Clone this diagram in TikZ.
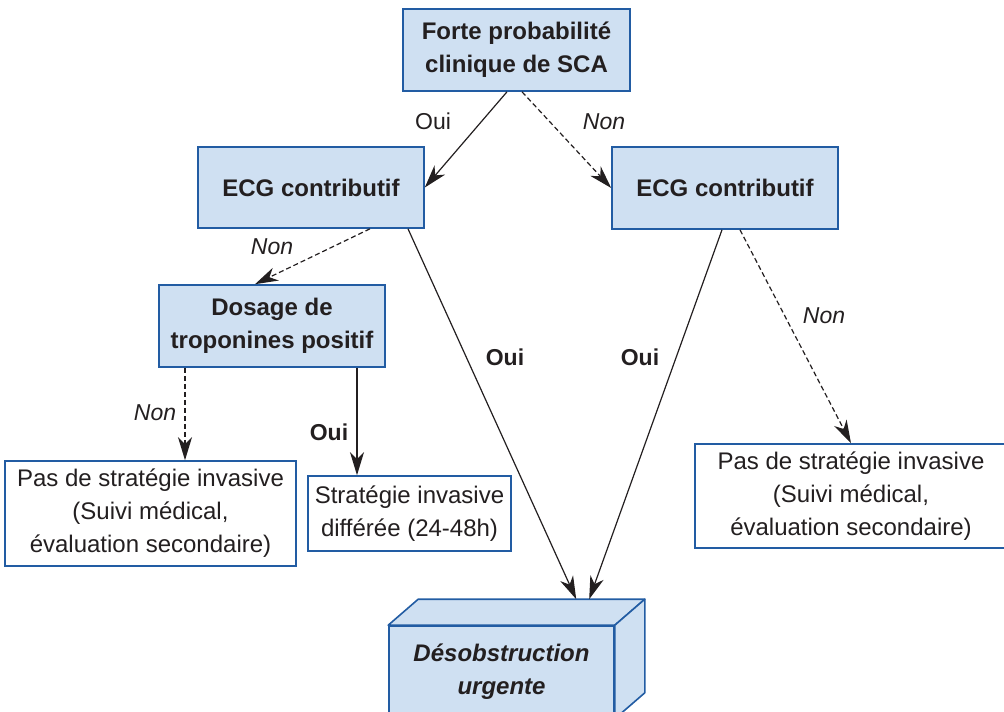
\documentclass[tikz,border=0pt]{standalone}
\usepackage{fontspec}
\setmainfont{Liberation Sans}
\usetikzlibrary{arrows.meta,calc}
\definecolor{boxfill}{RGB}{207,224,242}
\definecolor{boxline}{RGB}{34,92,163}
\definecolor{inkgray}{RGB}{35,31,32}
\begin{document}
\begin{tikzpicture}[
    x=1pt, y=-1pt,
    every node/.style={font=\fontsize{24}{33}\selectfont, text=inkgray, align=center, inner sep=0pt},
    bluebox/.style={draw=boxline, line width=1.6pt, fill=boxfill, font=\fontsize{24}{33}\selectfont\bfseries},
    whitebox/.style={draw=boxline, line width=1.6pt, fill=white},
    cubeface/.style={draw=boxline, line width=1.6pt, fill=boxfill, line join=round},
    ouiarrow/.style={draw=inkgray, line width=1.2pt, -{Stealth[length=23pt,width=14pt,inset=7pt]}},
    nonarrow/.style={ouiarrow, dash pattern=on 5pt off 3pt},
    lbl/.style={font=\fontsize{23}{27}\selectfont},
    nonlbl/.style={font=\fontsize{23}{27}\selectfont\itshape},
    ouilbl/.style={font=\fontsize{23}{27}\selectfont\bfseries}
]
\useasboundingbox (0,0) rectangle (1004,712);
\clip (0,0) rectangle (1004,712);

\node[bluebox, minimum width=227pt, minimum height=82pt] (sca) at (516.5,50) {Forte probabilité\\clinique de SCA};
\node[bluebox, minimum width=226pt, minimum height=81pt] (ecgL) at (311,187.5) {ECG contributif};
\node[bluebox, minimum width=226pt, minimum height=82pt] (ecgR) at (725,188) {ECG contributif};
\node[bluebox, minimum width=226pt, minimum height=82pt] (tropo) at (272,326) {Dosage de\\troponines positif};
\node[whitebox, minimum width=291pt, minimum height=105pt] (pasL) at (150.5,513.5) {Pas de stratégie invasive\\(Suivi médical,\\évaluation secondaire)};
\node[whitebox, minimum width=203pt, minimum height=75pt] (diff) at (409.5,513.5) {Stratégie invasive\\différée (24-48h)};
\node[whitebox, minimum width=312pt, minimum height=104pt] (pasR) at (851,496) {Pas de stratégie invasive\\(Suivi médical,\\évaluation secondaire)};
\node[bluebox, font=\fontsize{24}{33}\selectfont\bfseries\itshape, minimum width=225pt, minimum height=92pt] (desob) at (501.5,672) {Désobstruction\\urgente};

\coordinate (dtl) at ($(desob.north west)+(30,-26)$);
\coordinate (dtr) at ($(desob.north east)+(30,-26)$);
\draw[cubeface] (desob.north west) -- (dtl) -- (dtr) -- (desob.north east) -- cycle;
\draw[cubeface] (desob.north east) -- (dtr) -- ($(desob.south east)+(30,-26)$) -- (desob.south east) -- cycle;

\draw[ouiarrow] ([xshift=-9.5pt]sca.south) -- (ecgL.east);
\draw[nonarrow] ([xshift=5.5pt]sca.south) -- (ecgR.west);
\draw[nonarrow] ([xshift=59pt]ecgL.south) -- ([xshift=-17pt]tropo.north);
\draw[ouiarrow] ([xshift=97pt]ecgL.south) -- ([xshift=158pt]dtl);
\draw[ouiarrow] ([xshift=-3pt]ecgR.south) -- ([xshift=171pt]dtl);
\draw[nonarrow] ([xshift=15pt]ecgR.south) -- (pasR.north);
\draw[nonarrow] ([xshift=-87pt]tropo.south) -- ([xshift=-87pt]tropo.south |- pasL.north);
\draw[ouiarrow] ([xshift=85pt]tropo.south) -- ([xshift=85pt]tropo.south |- diff.north);

\node[lbl] (ouiA) at (433,121) {Oui};
\node[nonlbl] (nonA) at (604,122) {Non};
\node[nonlbl] (nonB) at (272,247) {Non};
\node[nonlbl] (nonC) at (824,316) {Non};
\node[nonlbl] (nonD) at (155,413) {Non};
\node[ouilbl] (ouiB) at (329,432) {Oui};
\node[ouilbl] (ouiC) at (505,357) {Oui};
\node[ouilbl] (ouiD) at (640,357) {Oui};
\end{tikzpicture}
\end{document}
